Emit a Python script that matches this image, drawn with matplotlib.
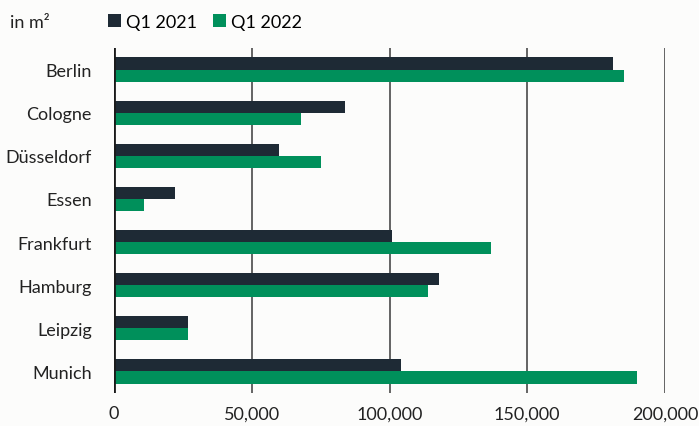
import numpy as np
import matplotlib
matplotlib.use("Agg")
import matplotlib.pyplot as plt
from matplotlib.ticker import FuncFormatter

cities = ['Berlin', 'Cologne', 'Düsseldorf', 'Essen', 'Frankfurt', 'Hamburg', 'Leipzig', 'Munich']
q1_2021 = [181000, 84000, 60000, 22000, 101000, 118000, 27000, 104000]
q1_2022 = [185000, 68000, 75000, 11000, 137000, 114000, 27000, 190000]
xticks = [0, 50000, 100000, 150000, 200000]

dark = '#1e2a35'
green = '#00905b'
bg = '#fcfcfb'

plt.rcParams['font.family'] = ['Lato', 'DejaVu Sans']

fig = plt.figure(figsize=(6.99, 4.27), dpi=100, facecolor=bg)
ax = fig.add_axes([114/699, 33/427, 551/699, 345/427], facecolor=bg)

y = np.arange(len(cities))
h = 0.28
ax.barh(y - h/2, q1_2021, height=h, color=dark, label='Q1 2021', zorder=3)
ax.barh(y + h/2, q1_2022, height=h, color=green, label='Q1 2022', zorder=3)

ax.set_xlim(0, 200000)
ax.set_ylim(len(cities) - 0.5, -0.5)
ax.set_xticks(xticks)
ax.xaxis.set_major_formatter(FuncFormatter(lambda v, p: f'{int(v):,}'))
ax.set_yticks(y)
ax.set_yticklabels(cities)

# vertical grid
for t in xticks[1:]:
    ax.axvline(t, color='#3a3a3a', lw=1.1, zorder=1)
ax.axvline(0, color='#1a1a1a', lw=2, zorder=4)

for s in ax.spines.values():
    s.set_visible(False)
ax.tick_params(axis='both', length=0, labelsize=13, colors='#222222')
ax.tick_params(axis='x', pad=9)
ax.tick_params(axis='y', pad=16)

fig.text(10/699, 1 - 23/427, 'in m²', fontsize=13, color='#222222', va='center')
ax.legend(loc='center left', bbox_to_anchor=(108/699, 1 - 23/427), bbox_transform=fig.transFigure,
          ncol=2, frameon=False, fontsize=13, handlelength=0.7, handleheight=0.7,
          handletextpad=0.3, columnspacing=0.9, borderaxespad=0, borderpad=0)

plt.savefig('out.png', dpi=100, facecolor=bg)
plt.close()
